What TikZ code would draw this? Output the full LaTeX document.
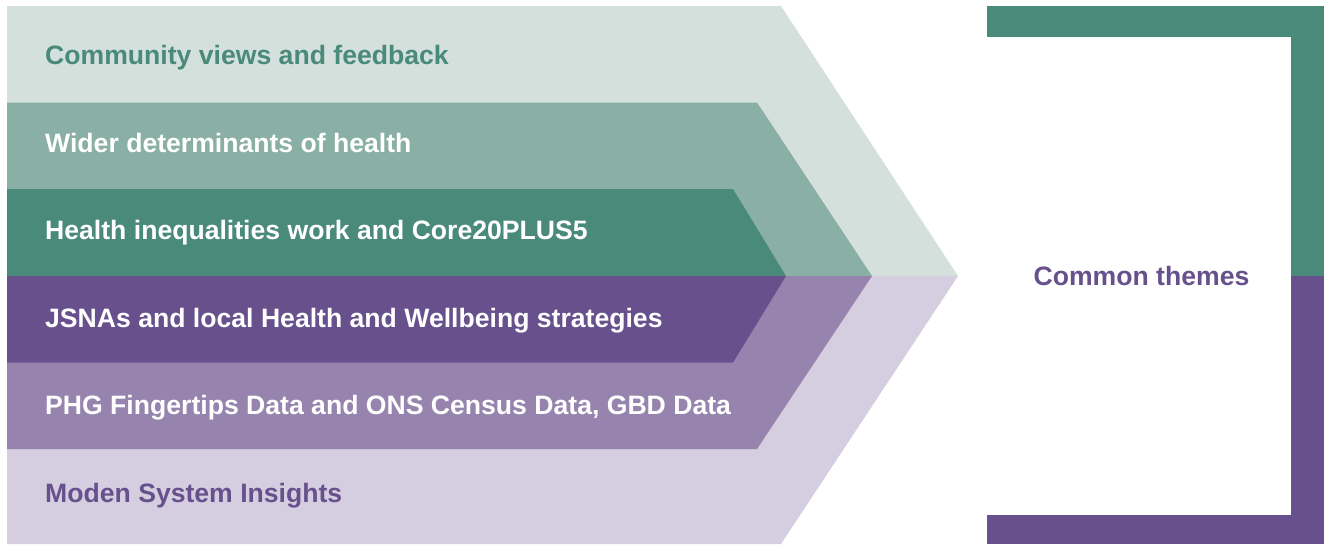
\documentclass[tikz,border=0pt]{standalone}
\usepackage{fontspec}
\setmainfont{Liberation Sans}
\usepackage{tikz}
\definecolor{lightgreen}{HTML}{D4E0DC}
\definecolor{midgreen}{HTML}{8AAFA5}
\definecolor{darkgreen}{HTML}{4A8A7A}
\definecolor{lightpurple}{HTML}{D5CEE1}
\definecolor{midpurple}{HTML}{9684AE}
\definecolor{darkpurple}{HTML}{67508C}

\begin{document}
\begin{tikzpicture}[x = 1pt, y = -1pt,
   bandtext/.style = {anchor = base west, inner sep = 0pt, font = \fontsize{26.6}{30}\selectfont\bfseries}]
   \useasboundingbox (0,0) rectangle (1324,544);
   \fill [lightgreen] (7,6) -- (781,6) -- (958,276) -- (7,276) -- cycle;
   \fill [lightpurple] (7,276) -- (958,276) -- (781,544) -- (7,544) -- cycle;
   \fill [midgreen] (7,102.5) -- (757,102.5) -- (872,276) -- (7,276) -- cycle;
   \fill [midpurple] (7,276) -- (872,276) -- (757,449) -- (7,449) -- cycle;
   \fill [darkgreen] (7,189) -- (733,189) -- (786,276) -- (7,276) -- cycle;
   \fill [darkpurple] (7,276) -- (786,276) -- (733,362.5) -- (7,362.5) -- cycle;
   \node(community) at (45,64) [bandtext, text = darkgreen] {Community views and feedback};
   \node(wider) at (45,152.5) [bandtext, text = white] {Wider determinants of health};
   \node(inequal) at (45,239.5) [bandtext, text = white] {Health inequalities work and Core20PLUS5};
   \node(jsna) at (45,327) [bandtext, text = white] {JSNAs and local Health and Wellbeing strategies};
   \node(phg) at (45,414) [bandtext, text = white] {PHG Fingertips Data and ONS Census Data, GBD Data};
   \node(moden) at (45,502) [bandtext, text = darkpurple] {Moden System Insights};
   \fill [darkgreen] (987,6) rectangle (1324,37);
   \fill [darkgreen] (1291,6) rectangle (1324,276);
   \fill [darkpurple] (1291,276) rectangle (1324,544);
   \fill [darkpurple] (987,515) rectangle (1324,544);
   \node(themes) at (1141.5,276) [font = \fontsize{26.6}{30}\selectfont\bfseries, text = darkpurple] {Common themes};
\end{tikzpicture}
\end{document}
